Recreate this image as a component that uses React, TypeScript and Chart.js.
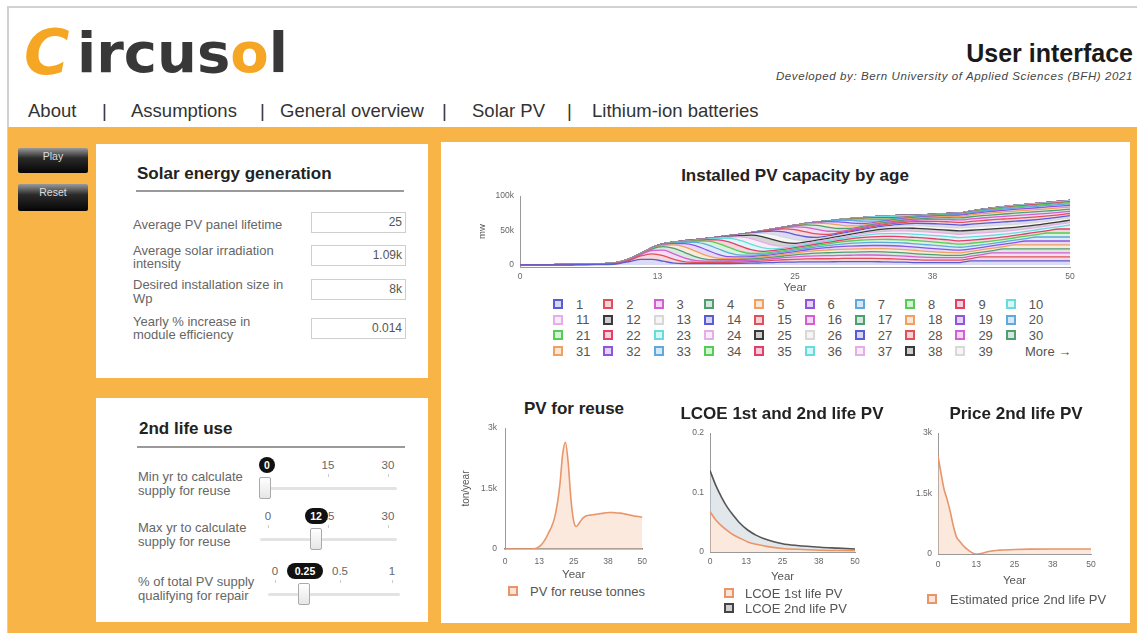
import React, { useEffect, useRef } from 'react';
import { Chart, registerables } from 'chart.js';

Chart.register(...registerables);

const FONT = '"Liberation Sans", Arial, Helvetica, sans-serif';
const LOGO_FONT = '"DejaVu Sans", Verdana, sans-serif';
const ORANGE = '#F8B446';

// ---------------- data ----------------
const years = [0, 1, 2, 3, 4, 5, 6, 7, 8, 9, 10, 11, 12, 13, 14, 15, 16, 17, 18, 19, 20, 21, 22, 23, 24, 25,
  26, 27, 28, 29, 30, 31, 32, 33, 34, 35, 36, 37, 38, 39, 40, 41, 42, 43, 44, 45, 46, 47, 48, 49, 50];
const ageSeries = years.slice(1).map(String); // ages 1..50

// new PV capacity (MW) installed in each year 0..49 (cohorts)
const newCapacityMW = [100, 150, 150, 200, 250, 300, 400, 600,
  2000, 5000, 8000, 8000, 5500,
  2500, 2000, 1800, 1800, 1900, 2000, 2200, 2500, 3000,
  3500, 4000, 4200,
  4500, 4500, 4500, 4800, 4800, 4800, 4800, 4500, 4200, 4000,
  3500, 3500, 3500, 3500, 3500,
  5800, 5800, 5800, 5800, 5800, 5800, 5800, 5800, 5800, 5800];
// fraction of a cohort still installed at age 1..50
const survivalByAge = [1, 1, 1, 1, 1, 1, 1, 1, 1, 1, 1, 1,
  0.97, 0.93, 0.88, 0.82, 0.74, 0.65, 0.55, 0.45, 0.36, 0.28, 0.2, 0.12, 0.05,
  0, 0, 0, 0, 0, 0, 0, 0, 0, 0, 0, 0, 0, 0, 0, 0, 0, 0, 0, 0, 0, 0, 0, 0, 0];
const ageColors = ['#5b5bd6', '#e0505a', '#d35fd3', '#4f9f72', '#f0a060', '#8f55e0', '#5fa8e0',
  '#55cc55', '#e0406a', '#66dddd', '#e6aee6', '#3a3a3a', '#d8d8d8'];
const capacityTicks = [0, 50000, 100000];
const yearTicks = [0, 12.5, 25, 37.5, 50];

const reuseTonnes = [0, 0, 0, 0, 0, 0, 0, 0, 0, 0,
  0, 10, 40, 90, 170, 280, 420, 560, 760, 1100, 1600, 2350, 2650, 2150, 1250, 700, 560, 640, 740, 800,
  830, 840, 850, 860, 870, 880, 890, 900, 905, 905, 900, 895, 890, 880, 865, 850, 835, 820, 810, 800, 790];
const tonTicks = [0, 1500, 3000];

const lcoeYears = [0, 2, 4, 6, 8, 10, 13, 16, 20, 25, 30, 38, 44, 50];
const lcoeFirstLife = [0.068, 0.054, 0.044, 0.036, 0.029, 0.024, 0.017, 0.013, 0.009, 0.006, 0.0045, 0.003, 0.0025, 0.002];
const lcoeSecondLife = [0.137, 0.112, 0.092, 0.075, 0.062, 0.05, 0.037, 0.028, 0.02, 0.014, 0.011, 0.008, 0.0065, 0.005];
const lcoeTicks = [0, 0.1, 0.2];

const priceYears = [0, 1, 2, 3, 4, 5, 6, 7, 8, 9, 10, 11, 12, 13, 15, 17, 20, 25, 30, 38, 44, 50];
const priceSecondLife = [2430, 2000, 1600, 1350, 1050, 700, 430, 320, 230, 150, 90, 40, 5, 0, 30, 70, 95, 110, 120, 125, 125, 125];

const navItems = [
  { t: 'About', x: 28 }, { t: '|', x: 102 }, { t: 'Assumptions', x: 131 }, { t: '|', x: 260 },
  { t: 'General overview', x: 280 }, { t: '|', x: 442 }, { t: 'Solar PV', x: 472 }, { t: '|', x: 567 },
  { t: 'Lithium-ion batteries', x: 592 },
];

// ---------------- helpers ----------------
function rgba(hex: string, a: number) {
  const n = parseInt(hex.slice(1), 16);
  return `rgba(${(n >> 16) & 255},${(n >> 8) & 255},${n & 255},${a})`;
}
const kFormat = (v: number) => (v === 0 ? '0' : `${v / 1000}k`);
const tickFont = { family: FONT, size: 8.5 };
const TICK_COLOR = '#666';
const LABEL = 13;

function xScale(height: number, pad: number, borderColor = '#999', borderWidth = 1) {
  return {
    type: 'linear', min: 0, max: 50,
    grid: { display: false, drawTicks: false },
    border: { display: true, color: borderColor, width: borderWidth },
    afterBuildTicks: (s: any) => { s.ticks = yearTicks.map((v) => ({ value: v })); },
    ticks: { font: tickFont, color: TICK_COLOR, padding: pad, maxRotation: 0, autoSkip: false,
      callback: (v: any) => String(Math.round(Number(v))) },
    title: { display: true, text: 'Year', font: { family: FONT, size: 11.5 }, color: '#555', padding: 0 },
    afterFit: (s: any) => { s.height = height; },
  };
}
function yScale(o: { min: number; max: number; ticks: number[]; fmt: (v: number) => string; width: number; pad: number; title?: string; stacked?: boolean; titleSize?: number }) {
  return {
    stacked: !!o.stacked, min: o.min, max: o.max,
    grid: { display: false, drawTicks: false },
    border: { display: true, color: '#999', width: 1 },
    afterBuildTicks: (s: any) => { s.ticks = o.ticks.map((v) => ({ value: v })); },
    ticks: { font: tickFont, color: TICK_COLOR, padding: o.pad, autoSkip: false, callback: (v: any) => o.fmt(Number(v)) },
    title: { display: !!o.title, text: o.title || '', font: { family: FONT, size: o.titleSize || 10 }, color: '#555', padding: 0 },
    afterFit: (s: any) => { s.width = o.width; },
  };
}
const basePlugins = { legend: { display: false }, title: { display: false }, tooltip: { enabled: false } };

type TProps = { x: number; cy: number; size?: number; bold?: boolean; italic?: boolean; color?: string; align?: 'left' | 'right' | 'center'; children: React.ReactNode; lh?: number; family?: string; weight?: number; style?: React.CSSProperties };
function T({ x, cy, size = LABEL, bold, italic, color = '#666', align = 'left', children, lh, family, weight, style }: TProps) {
  const h = lh || Math.ceil(size * 1.3);
  const s: React.CSSProperties = {
    position: 'absolute', top: cy - h / 2, height: h, lineHeight: `${h}px`, fontSize: size,
    fontWeight: weight || (bold ? 700 : 400), fontStyle: italic ? 'italic' : 'normal', color, whiteSpace: 'nowrap',
    fontFamily: family || FONT, ...style,
  };
  if (align === 'left') s.left = x;
  else if (align === 'right') s.right = 1137 - x;
  else { s.left = x - 300; s.width = 600; s.textAlign = 'center'; }
  return <div style={s}>{children}</div>;
}
function Box({ l, t, w, h, style, children }: { l: number; t: number; w: number; h: number; style?: React.CSSProperties; children?: React.ReactNode }) {
  return <div style={{ position: 'absolute', left: l, top: t, width: w, height: h, boxSizing: 'border-box', ...style }}>{children}</div>;
}
function LegendSquare({ l, t, color }: { l: number; t: number; color: string }) {
  return <Box l={l} t={t} w={10} h={10} style={{ border: `2px solid ${color}`, background: rgba(color, 0.25) }} />;
}
function Pill({ cx, cy, text }: { cx: number; cy: number; text: string }) {
  const w = text.length * 6.5 + 10;
  return <Box l={cx - w / 2} t={cy - 8} w={w} h={16} style={{ background: '#111', borderRadius: 8, color: '#fff', fontSize: 10.5, fontWeight: 700, textAlign: 'center', lineHeight: '16px' }}>{text}</Box>;
}
function Slider({ labels, pill, trackL, trackR, trackY, thumbX, labelY }: { labels: { t: string; x: number }[]; pill: { t: string; x: number }; trackL: number; trackR: number; trackY: number; thumbX: number; labelY: number }) {
  return (
    <>
      {labels.map((l) => (
        <React.Fragment key={l.t}>
          <T x={l.x} cy={labelY} size={11.5} color="#666" align="center">{l.t}</T>
          <Box l={l.x} t={labelY + 9} w={1} h={3} style={{ background: '#ccc' }} />
        </React.Fragment>
      ))}
      <Pill cx={pill.x} cy={labelY} text={pill.t} />
      <Box l={trackL} t={trackY - 1} w={trackR - trackL} h={3} style={{ background: '#e3e3e3', borderRadius: 2 }} />
      <Box l={thumbX - 6} t={trackY - 11} w={12} h={22} style={{ border: '1px solid #aaa', borderRadius: 2, background: 'linear-gradient(#ffffff, #e6e6e6)' }} />
    </>
  );
}

export default function App() {
  const mainRef = useRef<HTMLCanvasElement>(null);
  const reuseRef = useRef<HTMLCanvasElement>(null);
  const lcoeRef = useRef<HTMLCanvasElement>(null);
  const priceRef = useRef<HTMLCanvasElement>(null);

  useEffect(() => {
    document.body.style.margin = '0';
    const charts: Chart[] = [];

    const ageDatasets = ageSeries.map((label, i) => {
      const age = i + 1;
      const color = ageColors[i % ageColors.length];
      return {
        label,
        data: years.map((t) => ({ x: t, y: t - age >= 0 ? newCapacityMW[t - age] * survivalByAge[i] : 0 })),
        borderColor: color,
        backgroundColor: rgba(color, 0.22),
        fill: i === 0 ? 'origin' : '-1',
        borderWidth: 1.3,
        pointRadius: 0,
        cubicInterpolationMode: 'monotone',
      };
    });
    charts.push(new Chart(mainRef.current!, {
      type: 'line',
      data: { datasets: ageDatasets as any },
      options: {
        animation: false, responsive: false, devicePixelRatio: 1,
        layout: { padding: { top: 6, right: 15, bottom: 0, left: 0 } },
        plugins: basePlugins as any,
        scales: {
          x: xScale(28, 5) as any,
          y: yScale({ min: -3000, max: 100000, ticks: capacityTicks, fmt: kFormat, width: 43, pad: 6, title: 'mw', stacked: true, titleSize: 9.5 }) as any,
        },
      },
    }));

    charts.push(new Chart(reuseRef.current!, {
      type: 'line',
      data: {
        datasets: [{
          label: 'PV for reuse tonnes',
          data: years.map((t, i) => ({ x: t, y: reuseTonnes[i] })),
          borderColor: '#e8956a', backgroundColor: 'rgba(248,200,172,0.4)', fill: 'origin',
          borderWidth: 1.6, pointRadius: 0, cubicInterpolationMode: 'monotone',
        }] as any,
      },
      options: {
        animation: false, responsive: false, devicePixelRatio: 1,
        layout: { padding: { top: 10, right: 11, bottom: 0, left: 0 } },
        plugins: basePlugins as any,
        scales: {
          x: xScale(33, 8, '#888', 1.5) as any,
          y: yScale({ min: 0, max: 3000, ticks: tonTicks, fmt: kFormat, width: 45, pad: 8, title: 'ton/year' }) as any,
        },
      },
    }));

    charts.push(new Chart(lcoeRef.current!, {
      type: 'line',
      data: {
        datasets: [
          {
            label: 'LCOE 1st life PV',
            data: lcoeYears.map((t, i) => ({ x: t, y: lcoeFirstLife[i] })),
            borderColor: '#e8956a', backgroundColor: 'rgba(248,200,172,0.4)', fill: 'origin',
            borderWidth: 1.6, pointRadius: 0, cubicInterpolationMode: 'monotone',
          },
          {
            label: 'LCOE 2nd life PV',
            data: lcoeYears.map((t, i) => ({ x: t, y: lcoeSecondLife[i] })),
            borderColor: '#555', backgroundColor: 'rgba(200,212,218,0.55)', fill: '-1',
            borderWidth: 1.6, pointRadius: 0, cubicInterpolationMode: 'monotone',
          },
        ] as any,
      },
      options: {
        animation: false, responsive: false, devicePixelRatio: 1,
        layout: { padding: { top: 10, right: 15, bottom: 0, left: 0 } },
        plugins: basePlugins as any,
        scales: {
          x: xScale(32, 5) as any,
          y: yScale({ min: 0, max: 0.2, ticks: lcoeTicks, fmt: (v) => String(v), width: 50, pad: 6 }) as any,
        },
      },
    }));

    charts.push(new Chart(priceRef.current!, {
      type: 'line',
      data: {
        datasets: [{
          label: 'Estimated price 2nd life PV',
          data: priceYears.map((t, i) => ({ x: t, y: priceSecondLife[i] })),
          borderColor: '#e8956a', backgroundColor: 'rgba(248,200,172,0.4)', fill: 'origin',
          borderWidth: 1.6, pointRadius: 0, cubicInterpolationMode: 'monotone',
        }] as any,
      },
      options: {
        animation: false, responsive: false, devicePixelRatio: 1,
        layout: { padding: { top: 10, right: 14, bottom: 0, left: 0 } },
        plugins: basePlugins as any,
        scales: {
          x: xScale(34, 6) as any,
          y: yScale({ min: 0, max: 3000, ticks: tonTicks, fmt: kFormat, width: 48, pad: 6 }) as any,
        },
      },
    }));

    return () => charts.forEach((c) => c.destroy());
  }, []);

  const legendItems = ageSeries.slice(0, 39);

  return (
    <div style={{ position: 'relative', width: 1137, height: 633, overflow: 'hidden', background: '#fff', fontFamily: FONT }}>
      {/* frame */}
      <Box l={7} t={6} w={1135} h={630} style={{ borderTop: '2px solid #d2d2d2', borderLeft: '2px solid #d2d2d2' }} />
      {/* header: logo */}
      <T x={24} cy={53} size={62} weight={700} italic color="#F5A623" family={LOGO_FONT} lh={70}>C</T>
      <T x={77} cy={53} size={56} weight={700} color="#383838" family={LOGO_FONT} lh={70}>
        ircus<span style={{ color: '#F5A623' }}>o</span>l
      </T>
      <T x={1133} cy={53} size={25} bold color="#1a1a1a" align="right">User interface</T>
      <T x={1133} cy={76} size={11.5} italic color="#444" align="right" style={{ letterSpacing: 0.6 }}>Developed by: Bern University of Applied Sciences (BFH) 2021</T>
      {navItems.map((n, i) => <T key={i} x={n.x} cy={110} size={18.5} color="#333">{n.t}</T>)}

      {/* orange background */}
      <Box l={8} t={127} w={1129} h={506} style={{ background: ORANGE }} />

      {/* buttons */}
      <Box l={18} t={148} w={70} h={25} style={{ background: 'linear-gradient(#9a9a9a, #2a2a2a 40%, #050505)', borderRadius: 2, color: '#ddd', fontSize: 10.5, textAlign: 'center', lineHeight: '17px' }}>Play</Box>
      <Box l={18} t={184} w={70} h={27} style={{ background: 'linear-gradient(#9a9a9a, #2a2a2a 40%, #050505)', borderRadius: 2, color: '#ddd', fontSize: 10.5, textAlign: 'center', lineHeight: '17px' }}>Reset</Box>

      {/* panel 1 */}
      <Box l={96} t={144} w={332} h={234} style={{ background: '#fff' }} />
      <T x={137} cy={173} size={17} bold color="#222">Solar energy generation</T>
      <Box l={136} t={190} w={268} h={2} style={{ background: '#9a9a9a' }} />
      <T x={133} cy={224}>Average PV panel lifetime</T>
      <T x={133} cy={250}>Average solar irradiation</T>
      <T x={133} cy={263}>intensity</T>
      <T x={133} cy={284}>Desired installation size in</T>
      <T x={133} cy={298}>Wp</T>
      <T x={133} cy={321}>Yearly % increase in</T>
      <T x={133} cy={334}>module efficiency</T>
      {[{ t: 212, v: '25' }, { t: 245, v: '1.09k' }, { t: 279, v: '8k' }, { t: 318, v: '0.014' }].map((b) => (
        <Box key={b.t} l={311} t={b.t} w={95} h={21} style={{ border: '1px solid #cfcfcf', textAlign: 'right', paddingRight: 3, fontSize: 12, color: '#555', lineHeight: '19px' }}>{b.v}</Box>
      ))}

      {/* panel 2 */}
      <Box l={96} t={398} w={332} h={224} style={{ background: '#fff' }} />
      <T x={139} cy={428} size={17} bold color="#222">2nd life use</T>
      <Box l={137} t={446} w={268} h={2} style={{ background: '#9a9a9a' }} />
      <T x={138} cy={476}>Min yr to calculate</T>
      <T x={138} cy={490}>supply for reuse</T>
      <T x={138} cy={527}>Max yr to calculate</T>
      <T x={138} cy={541}>supply for reuse</T>
      <T x={138} cy={581}>% of total PV supply</T>
      <T x={138} cy={595}>qualifying for repair</T>
      <Slider labels={[{ t: '15', x: 328 }, { t: '30', x: 388 }]} pill={{ t: '0', x: 267 }} trackL={260} trackR={397} trackY={488} thumbX={265} labelY={465} />
      <Slider labels={[{ t: '0', x: 268 }, { t: '15', x: 328 }, { t: '30', x: 388 }]} pill={{ t: '12', x: 316 }} trackL={260} trackR={397} trackY={539} thumbX={316} labelY={516} />
      <Slider labels={[{ t: '0', x: 275 }, { t: '0.5', x: 340 }, { t: '1', x: 392 }]} pill={{ t: '0.25', x: 305 }} trackL={268} trackR={400} trackY={594} thumbX={304} labelY={571} />

      {/* right panel */}
      <Box l={441} t={142} w={689} h={481} style={{ background: '#fff' }} />
      <T x={795} cy={175} size={17} bold color="#222" align="center">Installed PV capacity by age</T>
      <canvas ref={mainRef} width={608} height={110} style={{ position: 'absolute', left: 477, top: 185 }} />
      {legendItems.map((name, i) => {
        const col = i % 10, row = Math.floor(i / 10);
        const l = 553 + col * 50.3, cy = 304 + row * 15.7;
        return (
          <React.Fragment key={name}>
            <LegendSquare l={l} t={cy - 5} color={ageColors[i % ageColors.length]} />
            <T x={l + 23} cy={cy} color="#555">{name}</T>
          </React.Fragment>
        );
      })}
      <T x={1025} cy={351} color="#555">More →</T>

      {/* bottom charts */}
      <T x={574} cy={408} size={17} bold color="#222" align="center">PV for reuse</T>
      <canvas ref={reuseRef} width={195} height={167} style={{ position: 'absolute', left: 460, top: 415 }} />
      <LegendSquare l={508} t={586} color="#e8956a" />
      <T x={530} cy={591} color="#555">PV for reuse tonnes</T>

      <T x={782} cy={413} size={17} bold color="#222" align="center">LCOE 1st and 2nd life PV</T>
      <canvas ref={lcoeRef} width={210} height={162} style={{ position: 'absolute', left: 660, top: 422 }} />
      <LegendSquare l={724} t={588} color="#e8956a" />
      <T x={745} cy={593} color="#555">LCOE 1st life PV</T>
      <LegendSquare l={724} t={603} color="#444444" />
      <T x={745} cy={608} color="#555">LCOE 2nd life PV</T>

      <T x={1016} cy={413} size={17} bold color="#222" align="center">Price 2nd life PV</T>
      <canvas ref={priceRef} width={215} height={166} style={{ position: 'absolute', left: 890, top: 422 }} />
      <LegendSquare l={927} t={594} color="#e8956a" />
      <T x={950} cy={599} color="#555">Estimated price 2nd life PV</T>
    </div>
  );
}
